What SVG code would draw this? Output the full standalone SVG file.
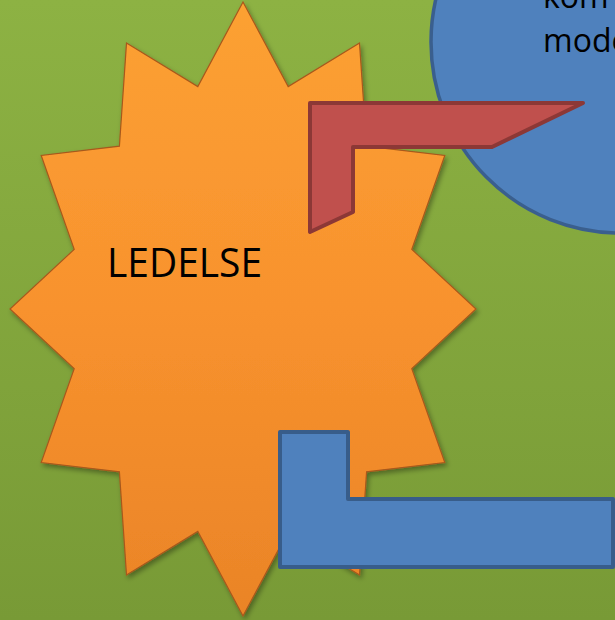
<svg xmlns="http://www.w3.org/2000/svg" width="615" height="620" viewBox="0 0 615 620">
  <defs>
    <linearGradient id="bg" x1="0" y1="0" x2="0" y2="1">
      <stop offset="0" stop-color="#8db243"/>
      <stop offset="1" stop-color="#789a36"/>
    </linearGradient>
    <linearGradient id="starFill" x1="0" y1="0" x2="0" y2="1">
      <stop offset="0" stop-color="#fca133"/>
      <stop offset="0.5" stop-color="#f8922e"/>
      <stop offset="1" stop-color="#ea8427"/>
    </linearGradient>
    <filter id="shadow" x="-10%" y="-10%" width="120%" height="120%">
      <feGaussianBlur in="SourceAlpha" stdDeviation="2.5"/>
      <feOffset dx="1.5" dy="2.5" result="b"/>
      <feFlood flood-color="#000" flood-opacity="0.35"/>
      <feComposite in2="b" operator="in"/>
      <feMerge><feMergeNode/><feMergeNode in="SourceGraphic"/></feMerge>
    </filter>
    <style>
      .label { font-family: "Open Sans", "Liberation Sans", sans-serif; fill: #000; }
      .star { fill: url(#starFill); stroke: #a8581c; stroke-width: 1.2; stroke-linejoin: miter; }
      .bevel { fill: none; stroke: #ffc070; stroke-opacity: 0.55; stroke-width: 5; }
      .circle { fill: #4f81bd; stroke: #3a5f8e; stroke-width: 3.5; }
      .redArrow { fill: #c0504d; stroke: #8c3836; stroke-width: 4; stroke-linejoin: round; }
      .blueL { fill: #4f81bd; stroke: #385d8a; stroke-width: 4; stroke-linejoin: round; }
    </style>
  </defs>

  <rect x="0" y="0" width="615" height="620" fill="url(#bg)"/>

  <g id="node-circle">
    <ellipse class="circle" cx="620" cy="42" rx="189" ry="191"/>
    <text class="label" x="543" y="8" font-size="32">kom</text>
    <text class="label" x="543" y="52" font-size="32">mode</text>
  </g>

  <g id="node-ledelse">
    <polygon class="star" filter="url(#shadow)" points="243,2 288.2,86.6 359.5,43.1 366.6,146.2 444.8,155.5 411.8,249.4 476,309 411.8,368.6 444.8,462.5 366.6,471.8 359.5,574.9 288.2,531.4 243,616 197.8,531.4 126.5,574.9 119.4,471.8 41.2,462.5 74.2,368.6 10,309 74.2,249.4 41.2,155.5 119.4,146.2 126.5,43.1 197.8,86.6"/>
    <text class="label" x="107" y="277" font-size="40" textLength="155" lengthAdjust="spacingAndGlyphs">LEDELSE</text>
  </g>

  <g id="connectors">
    <polygon id="red-arrow" class="redArrow" points="310,103 583,103 492,147 353,147 353,212 310,232"/>
    <polygon id="blue-l" class="blueL" points="280,432 348,432 348,499 613,499 613,567 280,567"/>
  </g>
</svg>
